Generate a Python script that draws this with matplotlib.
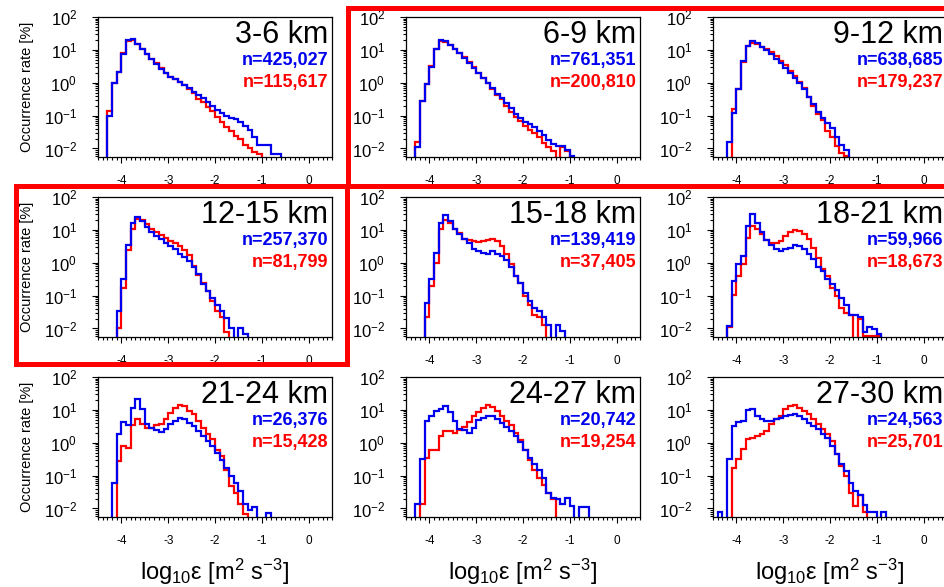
import numpy as np
import matplotlib.pyplot as plt
from matplotlib.patches import Rectangle
from matplotlib.ticker import MultipleLocator, LogLocator, NullFormatter

plt.rcParams['font.family'] = ['Liberation Sans', 'DejaVu Sans']
plt.rcParams['mathtext.default'] = 'regular'
plt.rcParams['axes.unicode_minus'] = False

# occurrence rate [%] per 0.1-wide log10(eps) bin; first left edge given by *_start
layers = ['3-6 km', '6-9 km', '9-12 km', '12-15 km', '15-18 km', '18-21 km',
          '21-24 km', '24-27 km', '27-30 km']
n_blue = ['425,027', '761,351', '638,685', '257,370', '139,419', '59,966',
          '26,376', '20,742', '24,563']
n_red = ['115,617', '200,810', '179,237', '81,799', '37,405', '18,673',
         '15,428', '19,254', '25,701']

blue_start = [-4.3, -4.3, -4.2, -4.1, -4.1, -4.2, -4.2, -4.3, -4.4]
red_start = [-4.3, -4.3, -4.1, -4.1, -4.1, -4.2, -4.1, -4.2, -4.1]

blue_3_6 = [0.1, 1.0, 2.1, 7.7, 20, 21, 15.6, 11, 7.5, 5.2, 3.7, 2.7, 2.0, 1.5,
            1.26, 1.05, 0.85, 0.67, 0.54, 0.42, 0.34, 0.26, 0.19, 0.15, 0.12,
            0.097, 0.085, 0.078, 0.063, 0.048, 0.037, 0.022, 0.013, 0.013,
            0.013, 0.0068, 0.0068]
red_3_6 = [0.14, 1.0, 2.1, 8.3, 19, 20, 15, 11, 7.5, 5.2, 3.9, 2.8, 2.0, 1.5,
           1.26, 1.05, 0.85, 0.65, 0.5, 0.33, 0.26, 0.18, 0.14, 0.09, 0.063,
           0.045, 0.033, 0.024, 0.019, 0.013, 0.01, 0.008, 0.007]

blue_6_9 = [0.011, 0.27, 0.9, 3.0, 11, 20, 18.5, 14.5, 10.7, 7.9, 5.7, 4.1, 2.8,
            2.0, 1.4, 1.0, 0.69, 0.47, 0.34, 0.25, 0.17, 0.115, 0.083, 0.065,
            0.055, 0.045, 0.034, 0.025, 0.018, 0.014, 0.012, 0.012, 0.009,
            0.0058]
red_6_9 = [0.016, 0.27, 0.9, 3.2, 11, 19, 17, 14.5, 10.7, 8, 6, 4.4, 3.0, 2.0,
           1.4, 0.95, 0.66, 0.43, 0.31, 0.2, 0.13, 0.09, 0.067, 0.047, 0.037,
           0.03, 0.022, 0.015, 0.011, 0.0085, 0, 0.011, 0.0085]

blue_9_12 = [0.016, 0.12, 0.66, 4.6, 13, 19, 16.6, 12.6, 10, 7.4, 5.4, 3.9, 2.9,
             2.0, 1.4, 0.96, 0.66, 0.37, 0.22, 0.126, 0.085, 0.06, 0.042,
             0.023, 0.013, 0.009]
red_9_12 = [0.16, 0.66, 4.4, 13, 16.5, 14.8, 12.3, 10.5, 8.7, 6.5, 4.6, 3.4,
            2.3, 1.6, 1.05, 0.7, 0.38, 0.2, 0.11, 0.072, 0.035, 0.023, 0.0115,
            0.0075, 0.006]

blue_12_15 = [0.033, 0.31, 3.4, 16.7, 24, 18, 12.6, 8.9, 6.6, 5.2, 4.1, 3.2,
              2.6, 1.9, 1.5, 1.1, 0.76, 0.44, 0.23, 0.135, 0.085, 0.053, 0.033,
              0.021, 0.01, 0, 0.01, 0.0068]
red_12_15 = [0.01, 0.17, 2.4, 11, 21, 20, 15, 10.5, 8.7, 6.9, 5.8, 4.6, 4.1,
             3.2, 2.4, 1.7, 0.8, 0.41, 0.24, 0.135, 0.067, 0.033, 0.023, 0.008]

blue_15_18 = [0.06, 0.31, 2.0, 16.7, 29, 19, 10.5, 7.4, 5.4, 3.9, 2.7, 2.3, 2.0,
              1.9, 2.3, 1.9, 1.6, 1.2, 0.76, 0.39, 0.25, 0.12, 0.067, 0.042,
              0.033, 0.023, 0.013, 0, 0.013, 0.0085]
red_15_18 = [0.023, 0.2, 1.0, 10.5, 20, 16.7, 11, 8.3, 5.4, 4.9, 4.6, 4.3, 4.6,
             4.9, 5.2, 4.6, 3.2, 1.8, 0.89, 0.39, 0.25, 0.095, 0.053, 0.026,
             0.023, 0.013]

blue_18_21 = [0.012, 0.27, 0.89, 1.6, 13, 30, 16.7, 8.7, 4.9, 3.4, 2.6, 2.3,
              2.6, 2.9, 3.4, 3.2, 2.6, 1.9, 1.26, 0.76, 0.55, 0.31, 0.22, 0.15,
              0.085, 0.053, 0.026, 0.026, 0.023, 0.008, 0.011, 0.0095, 0.007]
red_18_21 = [0.011, 0.107, 0.39, 0.89, 5.8, 13, 10.5, 7.4, 4.9, 4.1, 3.9, 4.6,
             6.3, 8.7, 10, 9.3, 7.4, 5.2, 2.9, 1.4, 0.66, 0.39, 0.17, 0.095,
             0.042, 0.03, 0.026, 0, 0.02, 0.006, 0.006, 0.006, 0.006]

blue_21_24 = [0.06, 1.8, 4.4, 3.4, 11.7, 21, 10.5, 3.6, 2.9, 2.4, 2.1, 2.6,
              3.6, 4.6, 5.5, 5.2, 4.1, 3.2, 2.3, 1.6, 1.1, 0.8, 0.5, 0.3, 0.17,
              0.1, 0.06, 0.033, 0.014, 0.009, 0.011, 0, 0, 0.0075]
red_21_24 = [0.27, 0.8, 0.7, 3.4, 5.2, 3.6, 2.9, 2.9, 3.4, 3.6, 5.2, 8.3, 11.7,
             14, 13, 9.3, 7.4, 4.6, 2.9, 1.8, 1.26, 0.6, 0.4, 0.15, 0.047, 0.03,
             0.014, 0.007]

blue_24_27 = [0.014, 0.31, 4.6, 6.6, 9.3, 11, 13, 8.7, 4.6, 2.6, 2.4, 2.0, 2.9,
              4.9, 5.8, 6.6, 6.6, 5.2, 3.9, 3.1, 2.3, 1.6, 1.05, 0.6, 0.35,
              0.22, 0.15, 0.085, 0.03, 0.021, 0.019, 0.014, 0.021, 0.0115, 0,
              0.011, 0.011]
red_24_27 = [0.014, 0.35, 0.6, 0.6, 1.6, 2.2, 2.2, 2.0, 2.4, 3.0, 4.3, 6.3, 8.7,
             11.7, 14, 12.6, 9.3, 6.6, 4.6, 3.4, 2.0, 1.2, 0.6, 0.3, 0.15, 0.085,
             0.05, 0.03, 0.02]

blue_27_30 = [0.008, 0, 0.31, 3.2, 4.3, 4.6, 10, 10.5, 6.6, 5.2, 4.6, 4.6, 5.2,
              5.8, 6.6, 6.9, 7.4, 6.3, 5.2, 4.1, 3.2, 2.6, 1.9, 1.4, 0.8, 0.44,
              0.22, 0.135, 0.06, 0.033, 0.026, 0.013, 0.008, 0.008, 0, 0.008]
red_27_30 = [0.17, 0.31, 0.63, 1.26, 1.4, 1.6, 1.9, 2.3, 3.6, 5.2, 6.6, 10.5, 13,
             14, 11.7, 9.3, 7.4, 5.2, 3.6, 2.6, 1.8, 1.1, 0.44, 0.2, 0.1, 0.03,
             0.012, 0.026, 0.008]

blue_rates = [blue_3_6, blue_6_9, blue_9_12, blue_12_15, blue_15_18,
              blue_18_21, blue_21_24, blue_24_27, blue_27_30]
red_rates = [red_3_6, red_6_9, red_9_12, red_12_15, red_15_18,
             red_18_21, red_21_24, red_24_27, red_27_30]

W, H = 944, 587
fig = plt.figure(figsize=(W / 100, H / 100), dpi=100)

col_left = [98, 406, 713]
row_top = [17, 197, 377]
ax_w, ax_h = 234, 140
floor = 1e-6


def draw_hist(ax, start, rate, color):
    rate = np.asarray(rate, dtype=float)
    edges = np.round(start + 0.1 * np.arange(len(rate) + 1), 2)
    ax.stairs(np.where(rate > 0, rate, floor), edges, baseline=floor,
              color=color, lw=1.6)


for i, name in enumerate(layers):
    r, c = divmod(i, 3)
    ax = fig.add_axes([col_left[c] / W, 1 - (row_top[r] + ax_h) / H,
                       ax_w / W, ax_h / H])
    draw_hist(ax, red_start[i], red_rates[i], '#ff0000')
    draw_hist(ax, blue_start[i], blue_rates[i], '#0000ee')

    ax.set_yscale('log')
    ax.set_ylim(5.5e-3, 100)
    ax.set_xlim(-4.5, 0.5)
    ax.xaxis.set_major_locator(MultipleLocator(1))
    ax.xaxis.set_minor_locator(MultipleLocator(0.1))
    ax.yaxis.set_major_locator(LogLocator(base=10, numticks=10))
    ax.yaxis.set_minor_locator(LogLocator(base=10, subs=range(2, 10), numticks=10))
    ax.yaxis.set_minor_formatter(NullFormatter())
    ax.tick_params(which='both', direction='out', top=False, right=False, width=0.8)
    ax.tick_params(axis='x', which='major', length=4, pad=9, labelsize=8.5)
    ax.tick_params(axis='x', which='minor', length=2)
    ax.tick_params(axis='y', which='major', length=4, pad=11, labelsize=12)
    ax.tick_params(axis='y', which='minor', length=2)
    for sp in ax.spines.values():
        sp.set_linewidth(0.9)

    ax.text(0.985, 0.814, name, transform=ax.transAxes, ha='right',
            va='baseline', fontsize=22)
    ax.text(0.985, 0.657, 'n=' + n_blue[i], transform=ax.transAxes, ha='right',
            va='baseline', fontsize=13, fontweight='bold', color='#0000ee')
    ax.text(0.985, 0.5, 'n=' + n_red[i], transform=ax.transAxes, ha='right',
            va='baseline', fontsize=13, fontweight='bold', color='#ff0000')

    if c == 0:
        ax.text(-71 / ax_w, 0.5, 'Occurrence rate [%]', transform=ax.transAxes,
                rotation=90, ha='center', va='center', fontsize=10.5)
    if r == 2:
        ax.text(0.5, -55 / ax_h, r'log$_{10}$ε [m$^{2}$ s$^{-3}$]',
                transform=ax.transAxes, ha='center', va='center', fontsize=17)


def frame(x0, y0, x1, y1):
    fig.add_artist(Rectangle((x0 / W, 1 - y1 / H), (x1 - x0) / W, (y1 - y0) / H,
                             transform=fig.transFigure, fill=False,
                             ec='#ff0000', lw=3.6, clip_on=False))


frame(347.5, 7.5, 980, 186)
frame(15.5, 186, 346.5, 364)

fig.savefig('out.png', dpi=100)
